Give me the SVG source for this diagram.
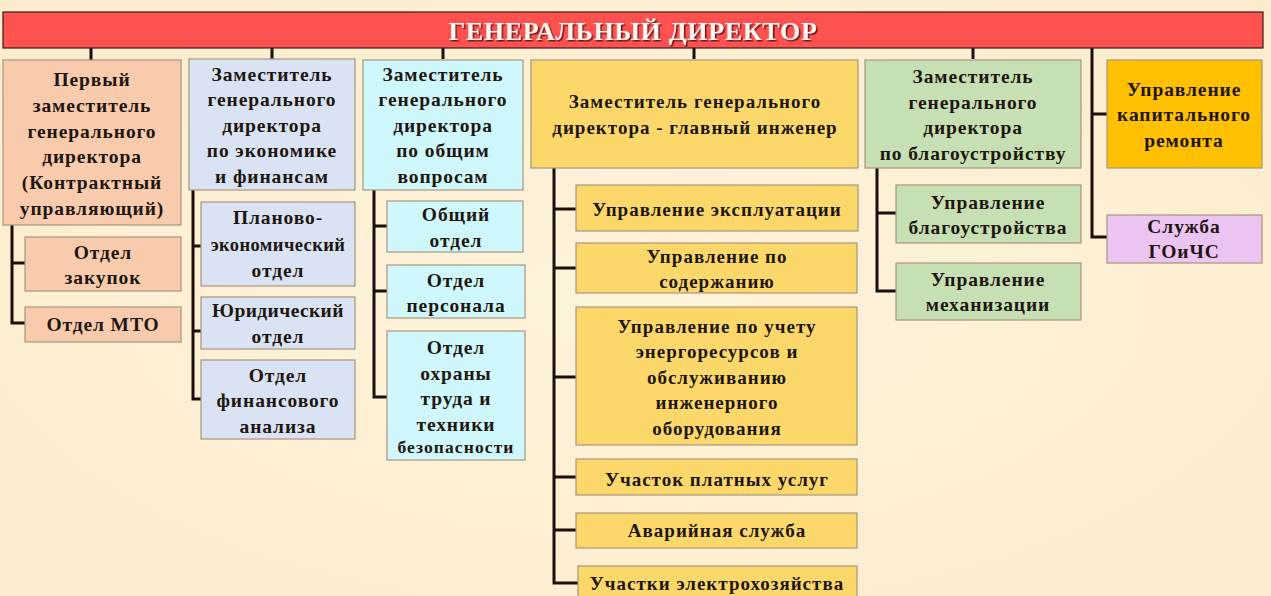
<svg xmlns="http://www.w3.org/2000/svg" width="1271" height="596" viewBox="0 0 1271 596">
<defs>
<radialGradient id="bg" cx="50%" cy="50%" r="75%">
<stop offset="0" stop-color="#FEF4DC"/>
<stop offset="1" stop-color="#FBEBCB"/>
</radialGradient>
<filter id="sh" x="-5%" y="-20%" width="110%" height="140%">
<feDropShadow dx="1.5" dy="1.5" stdDeviation="0.6" flood-color="#5a1010" flood-opacity="0.9"/>
</filter>
<style>
.t{font-family:"Liberation Serif","Times New Roman",serif;font-weight:bold;font-size:19.5px;fill:#1e1610;text-anchor:middle;letter-spacing:0.9px}
.ty{letter-spacing:1px;font-size:19px}
.b{stroke:#A8957F;stroke-width:1.2}
.peach{fill:#F8CBAD}
.blue{fill:#DAE3F3}
.cyan{fill:#CFF8FC}
.yel{fill:#FCD86A}
.grn{fill:#C6E0B4}
.org{fill:#FFC000}
.vio{fill:#EBC4F2}
.ln{stroke:#1a0f0a;stroke-width:3;fill:none}
</style>
</defs>
<rect x="0" y="0" width="1271" height="596" fill="url(#bg)"/>

<g id="connectors">
<path class="ln" d="M91 48V60M272 48V59M443 48V59M694 48V59M973 48V59"/>
<path class="ln" d="M1092 48V237H1107M1092 114H1107"/>
<path class="ln" d="M12 225V323H25M12 263H25"/>
<path class="ln" d="M193 190V399H201M193 246H201M193 331H201"/>
<path class="ln" d="M374 190V397H387M374 226H387M374 291H387"/>
<path class="ln" d="M554 168V583H578M554 209H576M554 268H576M554 377H576M554 477H576M554 530H576"/>
<path class="ln" d="M877 168V291H896M877 213H896"/>
</g>

<g id="gen-director">
<rect x="3" y="12" width="1260" height="36" fill="#FF5250" stroke="#3a1a1a" stroke-width="1.2"/>
<text x="633" y="40" filter="url(#sh)" style="font-family:'Liberation Serif','Times New Roman',serif;font-weight:bold;font-size:26px;fill:#FFF4EE;text-anchor:middle;letter-spacing:0.7px">ГЕНЕРАЛЬНЫЙ ДИРЕКТОР</text>
</g>

<g id="first-deputy">
<rect class="b peach" x="3" y="60" width="178" height="165"/>
<text class="t" x="92" y="86">Первый</text>
<text class="t" x="92" y="112">заместитель</text>
<text class="t" x="92" y="138">генерального</text>
<text class="t" x="92" y="163">директора</text>
<text class="t" x="92" y="189">(Контрактный</text>
<text class="t" x="92" y="215">управляющий)</text>
</g>
<g id="otdel-zakupok">
<rect class="b peach" x="25" y="237" width="156" height="54"/>
<text class="t" x="103" y="259">Отдел</text>
<text class="t" x="103" y="284">закупок</text>
</g>
<g id="otdel-mto">
<rect class="b peach" x="25" y="307" width="156" height="35"/>
<text class="t" x="103" y="331">Отдел МТО</text>
</g>

<g id="deputy-economy">
<rect class="b blue" x="189" y="59" width="166" height="131"/>
<text class="t" x="272" y="81">Заместитель</text>
<text class="t" x="272" y="106">генерального</text>
<text class="t" x="272" y="132">директора</text>
<text class="t" x="272" y="157">по экономике</text>
<text class="t" x="272" y="183">и финансам</text>
</g>
<g id="planovo">
<rect class="b blue" x="201" y="202" width="154" height="84"/>
<text class="t" x="278" y="224">Планово-</text>
<text class="t" x="278" y="251" style="font-size:18.5px;letter-spacing:0.4px">экономический</text>
<text class="t" x="278" y="277">отдел</text>
</g>
<g id="yuridich">
<rect class="b blue" x="201" y="297" width="154" height="52"/>
<text class="t" x="278" y="317" style="letter-spacing:0.4px">Юридический</text>
<text class="t" x="278" y="343">отдел</text>
</g>
<g id="finanalysis">
<rect class="b blue" x="201" y="360" width="154" height="79"/>
<text class="t" x="278" y="382">Отдел</text>
<text class="t" x="278" y="407">финансового</text>
<text class="t" x="278" y="433">анализа</text>
</g>

<g id="deputy-general">
<rect class="b cyan" x="363" y="60" width="160" height="130"/>
<text class="t" x="443" y="81">Заместитель</text>
<text class="t" x="443" y="106">генерального</text>
<text class="t" x="443" y="132">директора</text>
<text class="t" x="443" y="157">по общим</text>
<text class="t" x="443" y="183">вопросам</text>
</g>
<g id="obshiy">
<rect class="b cyan" x="387" y="201" width="136" height="51"/>
<text class="t" x="456" y="221">Общий</text>
<text class="t" x="456" y="247">отдел</text>
</g>
<g id="personal">
<rect class="b cyan" x="387" y="265" width="138" height="53"/>
<text class="t" x="456" y="287">Отдел</text>
<text class="t" x="456" y="312">персонала</text>
</g>
<g id="okhrana">
<rect class="b cyan" x="387" y="331" width="138" height="129"/>
<text class="t" x="456" y="354">Отдел</text>
<text class="t" x="456" y="380">охраны</text>
<text class="t" x="456" y="405">труда и</text>
<text class="t" x="456" y="431">техники</text>
<text class="t" x="456" y="453" style="font-size:17.5px;letter-spacing:1.1px">безопасности</text>
</g>

<g id="chief-engineer">
<rect class="b yel" x="531" y="60" width="327" height="108"/>
<text class="t ty" x="695" y="108">Заместитель генерального</text>
<text class="t ty" x="695" y="134">директора  - главный инженер</text>
</g>
<g id="ekspluatacii">
<rect class="b yel" x="576" y="185" width="282" height="46"/>
<text class="t ty" x="717" y="216">Управление эксплуатации</text>
</g>
<g id="soderzhaniyu">
<rect class="b yel" x="576" y="243" width="281" height="50"/>
<text class="t ty" x="717" y="263">Управление по</text>
<text class="t ty" x="717" y="288">содержанию</text>
</g>
<g id="energo">
<rect class="b yel" x="576" y="307" width="281" height="138"/>
<text class="t ty" x="717" y="333">Управление по учету</text>
<text class="t ty" x="717" y="358">энергоресурсов и</text>
<text class="t ty" x="717" y="384">обслуживанию</text>
<text class="t ty" x="717" y="409">инженерного</text>
<text class="t ty" x="717" y="435">оборудования</text>
</g>
<g id="platnye">
<rect class="b yel" x="576" y="459" width="281" height="36"/>
<text class="t ty" x="717" y="486">Участок платных услуг</text>
</g>
<g id="avariynaya">
<rect class="b yel" x="576" y="513" width="281" height="35"/>
<text class="t ty" x="717" y="537">Аварийная служба</text>
</g>
<g id="elektro">
<rect class="b yel" x="578" y="566" width="279" height="40"/>
<text class="t ty" x="717" y="590">Участки электрохозяйства</text>
</g>

<g id="deputy-blago">
<rect class="b grn" x="865" y="60" width="216" height="108"/>
<text class="t" x="973" y="83">Заместитель</text>
<text class="t" x="973" y="109">генерального</text>
<text class="t" x="973" y="134">директора</text>
<text class="t" x="973" y="160">по благоустройству</text>
</g>
<g id="upr-blago">
<rect class="b grn" x="896" y="185" width="185" height="58"/>
<text class="t" x="988" y="209">Управление</text>
<text class="t" x="988" y="234">благоустройства</text>
</g>
<g id="upr-mekh">
<rect class="b grn" x="896" y="263" width="185" height="57"/>
<text class="t" x="988" y="286">Управление</text>
<text class="t" x="988" y="311">механизации</text>
</g>

<g id="kap-remont">
<rect class="b org" x="1107" y="60" width="155" height="108"/>
<text class="t" x="1184" y="96">Управление</text>
<text class="t" x="1184" y="121">капитального</text>
<text class="t" x="1184" y="147">ремонта</text>
</g>
<g id="goichs">
<rect class="b vio" x="1107" y="215" width="155" height="48"/>
<text class="t" x="1184" y="233">Служба</text>
<text class="t" x="1184" y="258">ГОиЧС</text>
</g>
</svg>
